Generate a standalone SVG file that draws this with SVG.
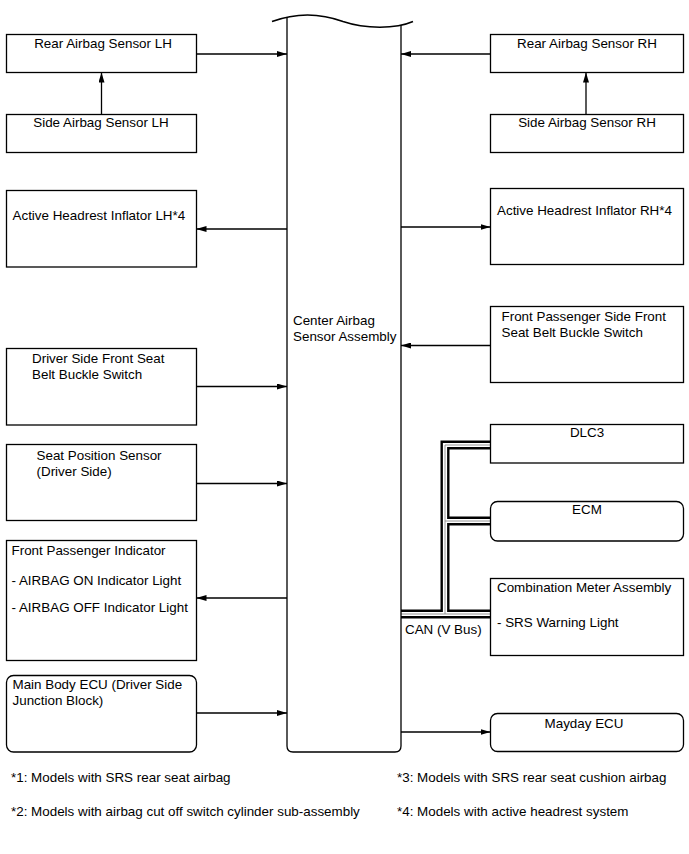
<svg xmlns="http://www.w3.org/2000/svg" width="689" height="854" viewBox="0 0 689 854">
<defs>
<style>
.bx{fill:#fff;stroke:#000;stroke-width:1.3}
.t{font-family:"Liberation Sans",Arial,sans-serif;font-size:13.4px;fill:#000}
.c{text-anchor:middle}
.ln{stroke:#000;stroke-width:1.3;fill:none;marker-end:url(#ah)}
</style>
<marker id="ah" viewBox="0 0 10 6" refX="10" refY="3" markerWidth="10" markerHeight="6" markerUnits="userSpaceOnUse" orient="auto"><path d="M0,0 L10,3 L0,6 z" fill="#000"/></marker>
</defs>
<rect width="689" height="854" fill="#fff"/>
<g id="connectors">
<path class="ln" d="M196.5,54 H287"/>
<path class="ln" d="M101.5,114.5 V72.5"/>
<path class="ln" d="M287,229 H196.5"/>
<path class="ln" d="M196.5,386.5 H287"/>
<path class="ln" d="M196.5,483.5 H287"/>
<path class="ln" d="M287,598 H196.5"/>
<path class="ln" d="M196.5,713 H287"/>
<path class="ln" d="M490.5,54 H401"/>
<path class="ln" d="M586,114.5 V72.5"/>
<path class="ln" d="M401,227 H490.5"/>
<path class="ln" d="M490.5,345.5 H401"/>
<path class="ln" d="M401,732 H490.5"/>
<g id="can-bus" fill="none" stroke-linejoin="miter">
<path d="M401,614 H491 M445,614 V445 H491 M445,521 H491" stroke="#000" stroke-width="9"/>
<path d="M401,614 H491 M445,614 V445 H491 M445,521 H491" stroke="#fff" stroke-width="4.2"/>
<path d="M401,614 H491 M445,614 V445 H491 M445,521 H491" stroke="#888" stroke-width="0.9"/>
</g>
</g>
<g id="center">
<path d="M272,21.5 C295,13 320,13 343,21.5 C365,29 396,29 413,21.5" fill="none" stroke="#000" stroke-width="1.5"/>
<path d="M287,17.5 V746 Q287,752 293,752 H395 Q401,752 401,746 V25" fill="none" stroke="#000" stroke-width="1.3"/>
<text class="t" x="293" y="325">Center Airbag</text>
<text class="t" x="293" y="341">Sensor Assembly</text>
</g>
<g id="rear-lh"><rect class="bx" x="6.5" y="34.5" width="190" height="38"/><text class="t c" x="103" y="48">Rear Airbag Sensor LH</text></g>
<g id="side-lh"><rect class="bx" x="6.5" y="114.5" width="190" height="38"/><text class="t c" x="101" y="127">Side Airbag Sensor LH</text></g>
<g id="head-lh"><rect class="bx" x="6.5" y="190.5" width="190" height="76.5"/><text class="t" x="12.5" y="219.5">Active Headrest Inflator LH*4</text></g>
<g id="drv-buckle"><rect class="bx" x="6.5" y="348.5" width="190" height="76.5"/><text class="t" x="32" y="363">Driver Side Front Seat</text><text class="t" x="32" y="379">Belt Buckle Switch</text></g>
<g id="seat-pos"><rect class="bx" x="6.5" y="444.5" width="190" height="76"/><text class="t" x="36.5" y="460">Seat Position Sensor</text><text class="t" x="36.5" y="476">(Driver Side)</text></g>
<g id="fp-ind"><rect class="bx" x="6.5" y="540.5" width="190" height="120"/><text class="t" x="11.5" y="555">Front Passenger Indicator</text><text class="t" x="11.5" y="585">- AIRBAG ON Indicator Light</text><text class="t" x="11.5" y="611.5">- AIRBAG OFF Indicator Light</text></g>
<g id="main-body"><rect class="bx" x="6.5" y="675.5" width="190" height="76.5" rx="7"/><text class="t" x="12.5" y="689">Main Body ECU (Driver Side</text><text class="t" x="12.5" y="705">Junction Block)</text></g>
<g id="rear-rh"><rect class="bx" x="490.5" y="34.5" width="193" height="38"/><text class="t c" x="587" y="48">Rear Airbag Sensor RH</text></g>
<g id="side-rh"><rect class="bx" x="490.5" y="114.5" width="193" height="38"/><text class="t c" x="587" y="127">Side Airbag Sensor RH</text></g>
<g id="head-rh"><rect class="bx" x="490.5" y="188.5" width="193" height="76"/><text class="t" x="497" y="215">Active Headrest Inflator RH*4</text></g>
<g id="fp-buckle"><rect class="bx" x="490.5" y="306.5" width="193" height="76"/><text class="t" x="501.5" y="320.5">Front Passenger Side Front</text><text class="t" x="501.5" y="336.5">Seat Belt Buckle Switch</text></g>
<g id="dlc3"><rect class="bx" x="490.5" y="424.5" width="193" height="38.5"/><text class="t c" x="587" y="437">DLC3</text></g>
<g id="ecm"><rect class="bx" x="490.5" y="501.5" width="193" height="39.5" rx="7"/><text class="t c" x="587" y="514">ECM</text></g>
<g id="combo"><rect class="bx" x="490.5" y="578.5" width="193" height="77"/><text class="t" x="497" y="592">Combination Meter Assembly</text><text class="t" x="497" y="627">- SRS Warning Light</text></g>
<g id="mayday"><rect class="bx" x="490.5" y="713.5" width="193" height="38" rx="7"/><text class="t c" x="584" y="728">Mayday ECU</text></g>
<text class="t" x="405" y="634">CAN (V Bus)</text>
<g id="notes">
<text class="t" x="11" y="782">*1: Models with SRS rear seat airbag</text>
<text class="t" x="11" y="816">*2: Models with airbag cut off switch cylinder sub-assembly</text>
<text class="t" x="397" y="782">*3: Models with SRS rear seat cushion airbag</text>
<text class="t" x="397" y="816">*4: Models with active headrest system</text>
</g>
</svg>
